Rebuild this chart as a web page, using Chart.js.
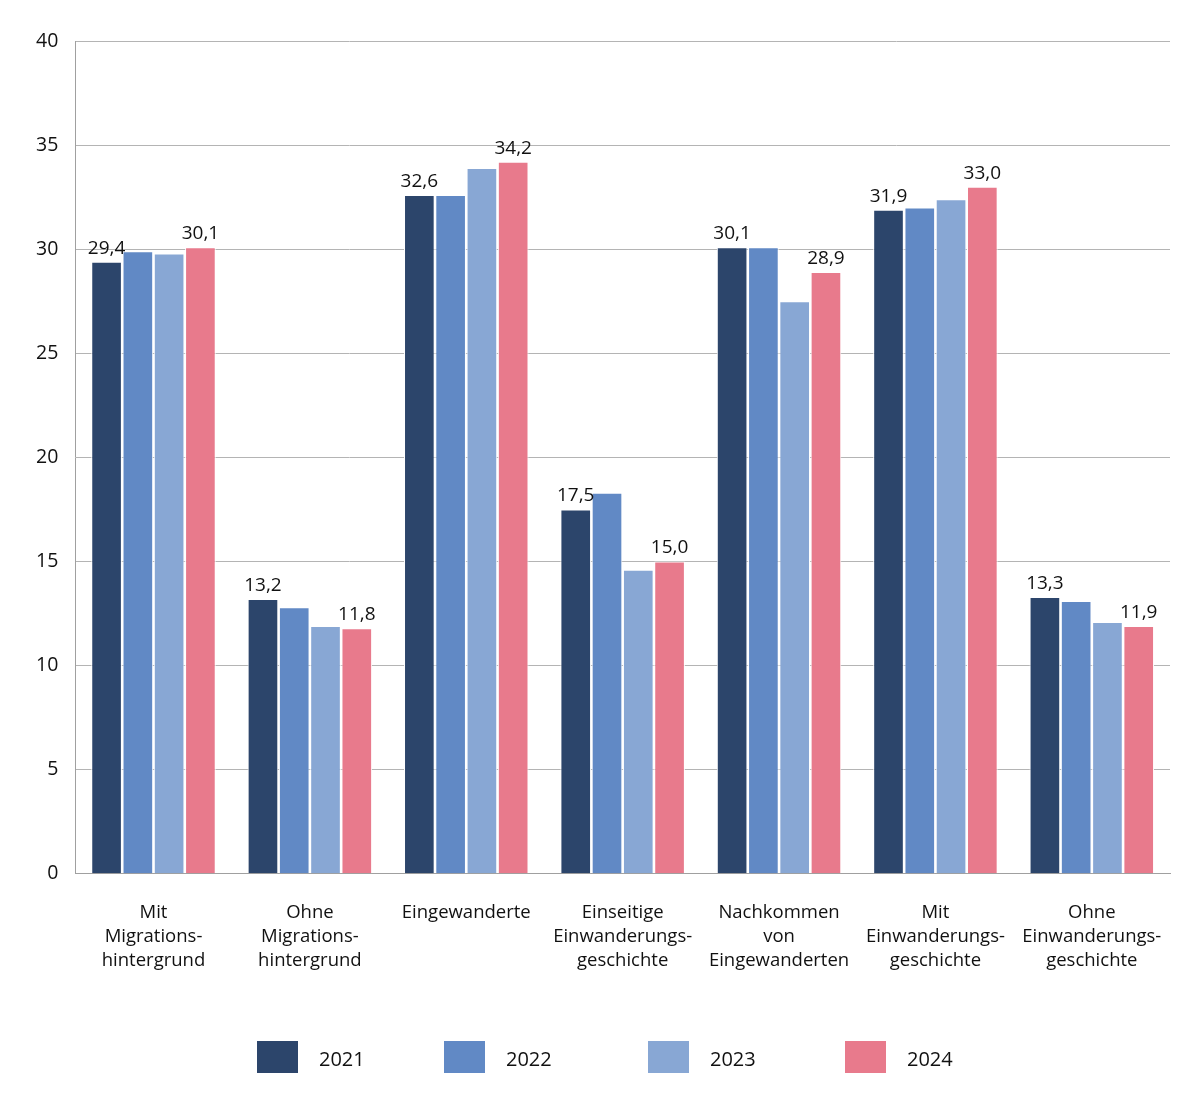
<!DOCTYPE html>
<html>
<head>
<meta charset="utf-8">
<script src="https://cdn.jsdelivr.net/npm/chart.js@4.4.0/dist/chart.umd.min.js"></script>
<style>
  body { margin: 0; background: #fff; }
  #wrap { position: relative; width: 1201px; height: 1094px; }
  #legend { position: absolute; left: 0; top: 1041px; width: 1201px; height: 32px; font-family: "Liberation Sans Narrow", "Open Sans", sans-serif; font-size: 20px; color: #111; }
  .item { position: absolute; top: 0; height: 32px; }
  .box { position: absolute; left: 0; top: 0; width: 41px; height: 32px; }
  .txt { position: absolute; left: 62px; top: 4px; white-space: nowrap; }
</style>
</head>
<body>
<div id="wrap">
  <canvas id="barChart" width="1201" height="1094"></canvas>
  <div id="legend"></div>
</div>
<script>
// categories and values
const categories = [
  ["Mit", "Migrations-", "hintergrund"],
  ["Ohne", "Migrations-", "hintergrund"],
  ["Eingewanderte"],
  ["Einseitige", "Einwanderungs-", "geschichte"],
  ["Nachkommen", "von", "Eingewanderten"],
  ["Mit", "Einwanderungs-", "geschichte"],
  ["Ohne", "Einwanderungs-", "geschichte"]
];
const years = ["2021", "2022", "2023", "2024"];
const values2021 = [29.4, 13.2, 32.6, 17.5, 30.1, 31.9, 13.3];
const values2022 = [29.9, 12.8, 32.6, 18.3, 30.1, 32.0, 13.1];
const values2023 = [29.8, 11.9, 33.9, 14.6, 27.5, 32.4, 12.1];
const values2024 = [30.1, 11.8, 34.2, 15.0, 28.9, 33.0, 11.9];
const colors = ["#2c456b", "#6189c5", "#88a7d4", "#e87a8c"];
const labelled = [true, false, false, true]; // only 2021 and 2024 carry value labels

const allValues = [values2021, values2022, values2023, values2024];
const fontFam = "'Open Sans', 'Noto Sans', sans-serif";

//value labels above bars
const valueLabels = {
  id: "valueLabels",
  afterDatasetsDraw(chart) {
    const ctx = chart.ctx;
    ctx.save();
    ctx.font = "19px " + fontFam;
    ctx.fillStyle = "#111";
    ctx.textAlign = "center";
    ctx.textBaseline = "bottom";
    chart.data.datasets.forEach((ds, i) => {
      if (!labelled[i]) return;
      chart.getDatasetMeta(i).data.forEach((bar, j) => {
        ctx.fillText(ds.data[j].toFixed(1).replace(".", ","), bar.x, bar.y - 4);
      });
    });
    ctx.restore();
  }
};

const ctx = document.getElementById("barChart").getContext("2d");
new Chart(ctx, {
  type: "bar",
  data: {
    labels: categories,
    datasets: years.map((y, i) => ({
      label: y,
      data: allValues[i],
      backgroundColor: colors[i],
      borderColor: "#ffffff",
      borderWidth: 1,
      categoryPercentage: 0.8,
      barPercentage: 0.98
    }))
  },
  options: {
    responsive: false,
    animation: false,
    layout: { padding: { top: 41, right: 31, bottom: 94, left: 19 } },
    plugins: {
      legend: { display: false },
      tooltip: { enabled: false }
    },
    scales: {
      x: {
        grid: { display: false, drawTicks: false },
        border: { display: true, color: "#a0a0a0", width: 1 },
        ticks: { color: "#111", font: { family: fontFam, size: 18.5, lineHeight: 1.3 }, padding: 27, maxRotation: 0, autoSkip: false }
      },
      y: {
        min: 0,
        max: 40,
        grid: { color: "#b4b4b4", drawTicks: false },
        border: { display: true, color: "#a0a0a0", width: 1 },
        ticks: { stepSize: 5, color: "#111", font: { family: fontFam, size: 19.5 }, padding: 17 }
      }
    }
  },
  plugins: [valueLabels]
});

//html legend
const legendLeft = [257, 444, 648, 845];
const legend = document.getElementById("legend");
years.forEach((y, i) => {
  const item = document.createElement("div");
  item.className = "item";
  item.style.left = legendLeft[i] + "px";
  item.innerHTML = `<div class="box" style="background:${colors[i]}"></div><div class="txt">${y}</div>`;
  legend.append(item);
});
</script>
</body>
</html>
